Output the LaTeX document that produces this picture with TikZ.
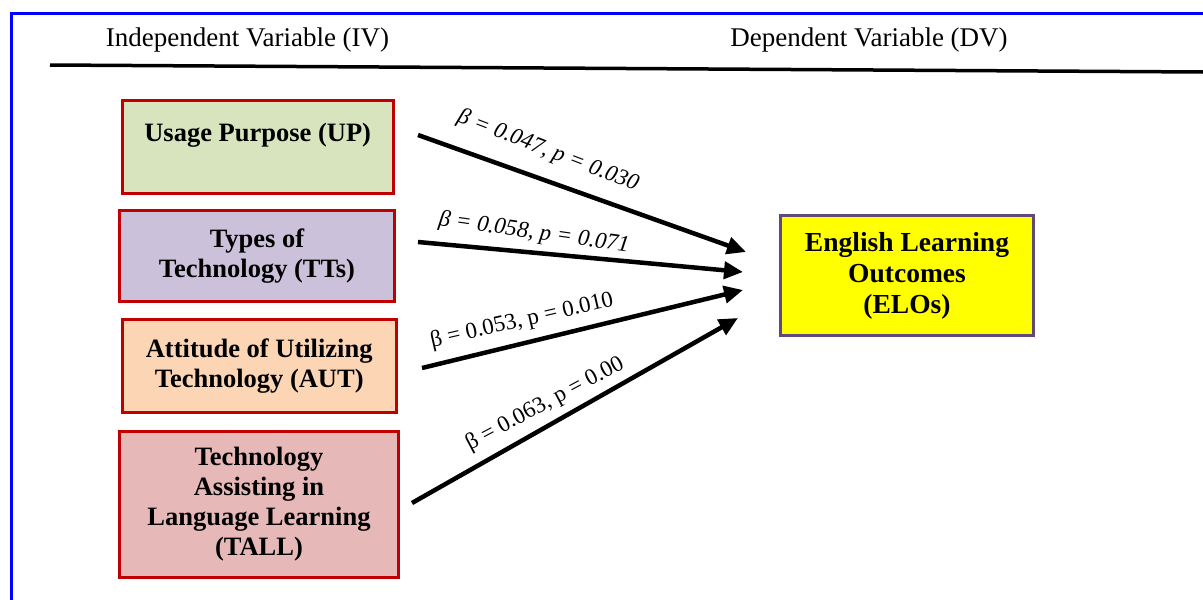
\documentclass[tikz,border=0pt]{standalone}
\usepackage{fontspec}
\setmainfont{Liberation Serif}
\usetikzlibrary{arrows.meta}
\definecolor{frameblue}{HTML}{0000FF}
\definecolor{boxred}{HTML}{C00000}
\definecolor{upfill}{HTML}{D7E4BD}
\definecolor{ttfill}{HTML}{CCC1DA}
\definecolor{autfill}{HTML}{FCD5B5}
\definecolor{tallfill}{HTML}{E6B9B8}
\definecolor{elofill}{HTML}{FFFF00}
\definecolor{eloborder}{HTML}{604A7B}
\begin{document}
\begin{tikzpicture}[x=1pt,y=-1pt,
  ivbox/.style={draw=boxred, line width=3pt, inner sep=0pt, align=center,
    font=\fontsize{26.5}{30}\selectfont\bfseries},
  dvbox/.style={draw=eloborder, line width=3pt, fill=elofill, inner sep=0pt, align=center,
    font=\fontsize{27.5}{31}\selectfont\bfseries},
  arr/.style={-{Triangle[length=19pt,width=17pt]}, line width=4.5pt},
  lab/.style={font=\fontsize{23}{24}\selectfont, inner sep=0pt},
  head/.style={font=\fontsize{27}{30}\selectfont, inner sep=0pt}
]
\useasboundingbox (0,0) rectangle (1203,600);
% frame and header
\draw[frameblue, line width=3pt] (11.5,600) -- (11.5,13.5) -- (1203,13.5);
\draw[line width=3.5pt] (50,65) -- (1203,72);
\node[head] (iv) at (247.5,40) {Independent Variable (IV)};
\node[head] (dv) at (869,40) {Dependent Variable (DV)};
% boxes
\node[ivbox, fill=upfill, minimum width=271pt, minimum height=93pt] (up) at (257.7,147) {Usage Purpose (UP)\\\mbox{}};
\node[ivbox, fill=ttfill, minimum width=275pt, minimum height=91pt] (tt) at (257,256) {Types of\\Technology (TTs)};
\node[ivbox, fill=autfill, minimum width=274pt, minimum height=93pt] (aut) at (259.2,366) {Attitude of Utilizing\\Technology (AUT)};
\node[ivbox, fill=tallfill, minimum width=279pt, minimum height=146pt] (tall) at (259,504.5) {Technology\\Assisting in\\Language Learning\\(TALL)};
\node[dvbox, minimum width=253pt, minimum height=120pt] (elo) at (907,275.5) {English Learning\\Outcomes\\(ELOs)};
% arrow ends
\coordinate (s1) at (418,135);
\coordinate (e1) at (746,252);
\coordinate (s2) at (418,242);
\coordinate (e2) at (743,272);
\coordinate (s3) at (422,368);
\coordinate (e3) at (743,290);
\coordinate (s4) at (412,503);
\coordinate (e4) at (738,318);
\draw[arr] (s1) -- (e1);
\draw[arr] (s2) -- (e2);
\draw[arr] (s3) -- (e3);
\draw[arr] (s4) -- (e4);
% labels
\node[lab, rotate=-21] (l1) at (548,151) {\itshape β = 0.047, p = 0.030};
\node[lab, rotate=-8] (l2) at (534,233) {\itshape β = 0.058, p = 0.071};
\node[lab, rotate=13] (l3) at (522,321) {β = 0.053, p = 0.010};
\node[lab, rotate=28] (l4) at (545,404) {β = 0.063, p = 0.00};
\end{tikzpicture}
\end{document}
